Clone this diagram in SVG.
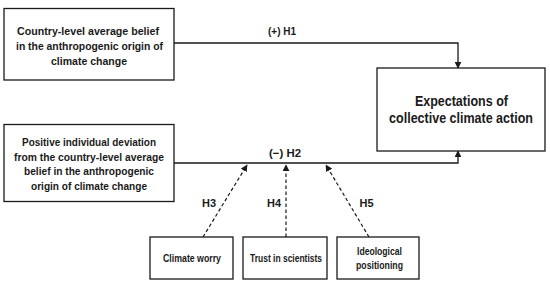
<svg xmlns="http://www.w3.org/2000/svg" width="550" height="289" viewBox="0 0 550 289">
<defs>
<style>
.box{fill:#fff;stroke:#1a1a1a;stroke-width:1.3}
.t{font-family:"Liberation Sans",Arial,sans-serif;font-weight:bold;font-size:11.5px;fill:#1a1a1a;text-anchor:middle}
.big{font-size:15px}
.ln{fill:none;stroke:#1a1a1a;stroke-width:1.3}
.dash{fill:none;stroke:#1a1a1a;stroke-width:1.2;stroke-dasharray:3.5,2.5}
</style>
<marker id="ah" viewBox="0 0 10 10" refX="9" refY="5" markerWidth="7" markerHeight="7" orient="auto" markerUnits="userSpaceOnUse">
<path d="M0,0 L10,5 L0,10 z" fill="#1a1a1a"/>
</marker>
</defs>
<rect width="550" height="289" fill="#fff"/>
<g id="connectors">
<polyline class="ln" points="174,43 458,43 458,68" marker-end="url(#ah)"/>
<polyline class="ln" points="174,163 458,163 458,151" marker-end="url(#ah)"/>
<line class="dash" x1="203" y1="237" x2="247" y2="165" marker-end="url(#ah)"/>
<line class="dash" x1="286" y1="237" x2="286" y2="165" marker-end="url(#ah)"/>
<line class="dash" x1="369" y1="237" x2="326" y2="165" marker-end="url(#ah)"/>
<text class="t" x="282" y="34.5" textLength="28" lengthAdjust="spacingAndGlyphs">(+) H1</text>
<text class="t" x="285" y="157" textLength="32" lengthAdjust="spacingAndGlyphs">(−) H2</text>
<text class="t" x="209" y="207" textLength="14" lengthAdjust="spacingAndGlyphs">H3</text>
<text class="t" x="274" y="207" textLength="14" lengthAdjust="spacingAndGlyphs">H4</text>
<text class="t" x="366.5" y="207" textLength="14" lengthAdjust="spacingAndGlyphs">H5</text>
</g>
<g id="country">
<rect class="box" x="4" y="8.5" width="170" height="71.5"/>
<text class="t" x="88" y="34.5" textLength="142" lengthAdjust="spacingAndGlyphs">Country-level average belief</text>
<text class="t" x="89.5" y="49.5" textLength="147" lengthAdjust="spacingAndGlyphs">in the anthropogenic origin of</text>
<text class="t" x="89" y="64.5" textLength="76" lengthAdjust="spacingAndGlyphs">climate change</text>
</g>
<g id="individual">
<rect class="box" x="4" y="124.5" width="170" height="77"/>
<text class="t" x="89" y="146" textLength="134" lengthAdjust="spacingAndGlyphs">Positive individual deviation</text>
<text class="t" x="89" y="160.5" textLength="150" lengthAdjust="spacingAndGlyphs">from the country-level average</text>
<text class="t" x="89" y="175" textLength="130" lengthAdjust="spacingAndGlyphs">belief in the anthropogenic</text>
<text class="t" x="89" y="189.5" textLength="116" lengthAdjust="spacingAndGlyphs">origin of climate change</text>
</g>
<g id="expectations">
<rect class="box" x="377" y="68" width="168" height="83"/>
<g transform="translate(461,0) scale(0.834,1)">
<text class="t big" x="0.5" y="106.5">Expectations of</text>
<text class="t big" x="0" y="123">collective climate action</text>
</g>
</g>
<g id="worry">
<rect class="box" x="150" y="237" width="83" height="42"/>
<text class="t" x="192" y="262" textLength="58" lengthAdjust="spacingAndGlyphs">Climate worry</text>
</g>
<g id="trust">
<rect class="box" x="243" y="237" width="84" height="42"/>
<text class="t" x="286" y="262" textLength="72" lengthAdjust="spacingAndGlyphs">Trust in scientists</text>
</g>
<g id="ideology">
<rect class="box" x="337" y="237" width="82" height="42"/>
<text class="t" x="379.5" y="255" textLength="45" lengthAdjust="spacingAndGlyphs">Ideological</text>
<text class="t" x="379.5" y="269" textLength="47" lengthAdjust="spacingAndGlyphs">positioning</text>
</g>
</svg>
